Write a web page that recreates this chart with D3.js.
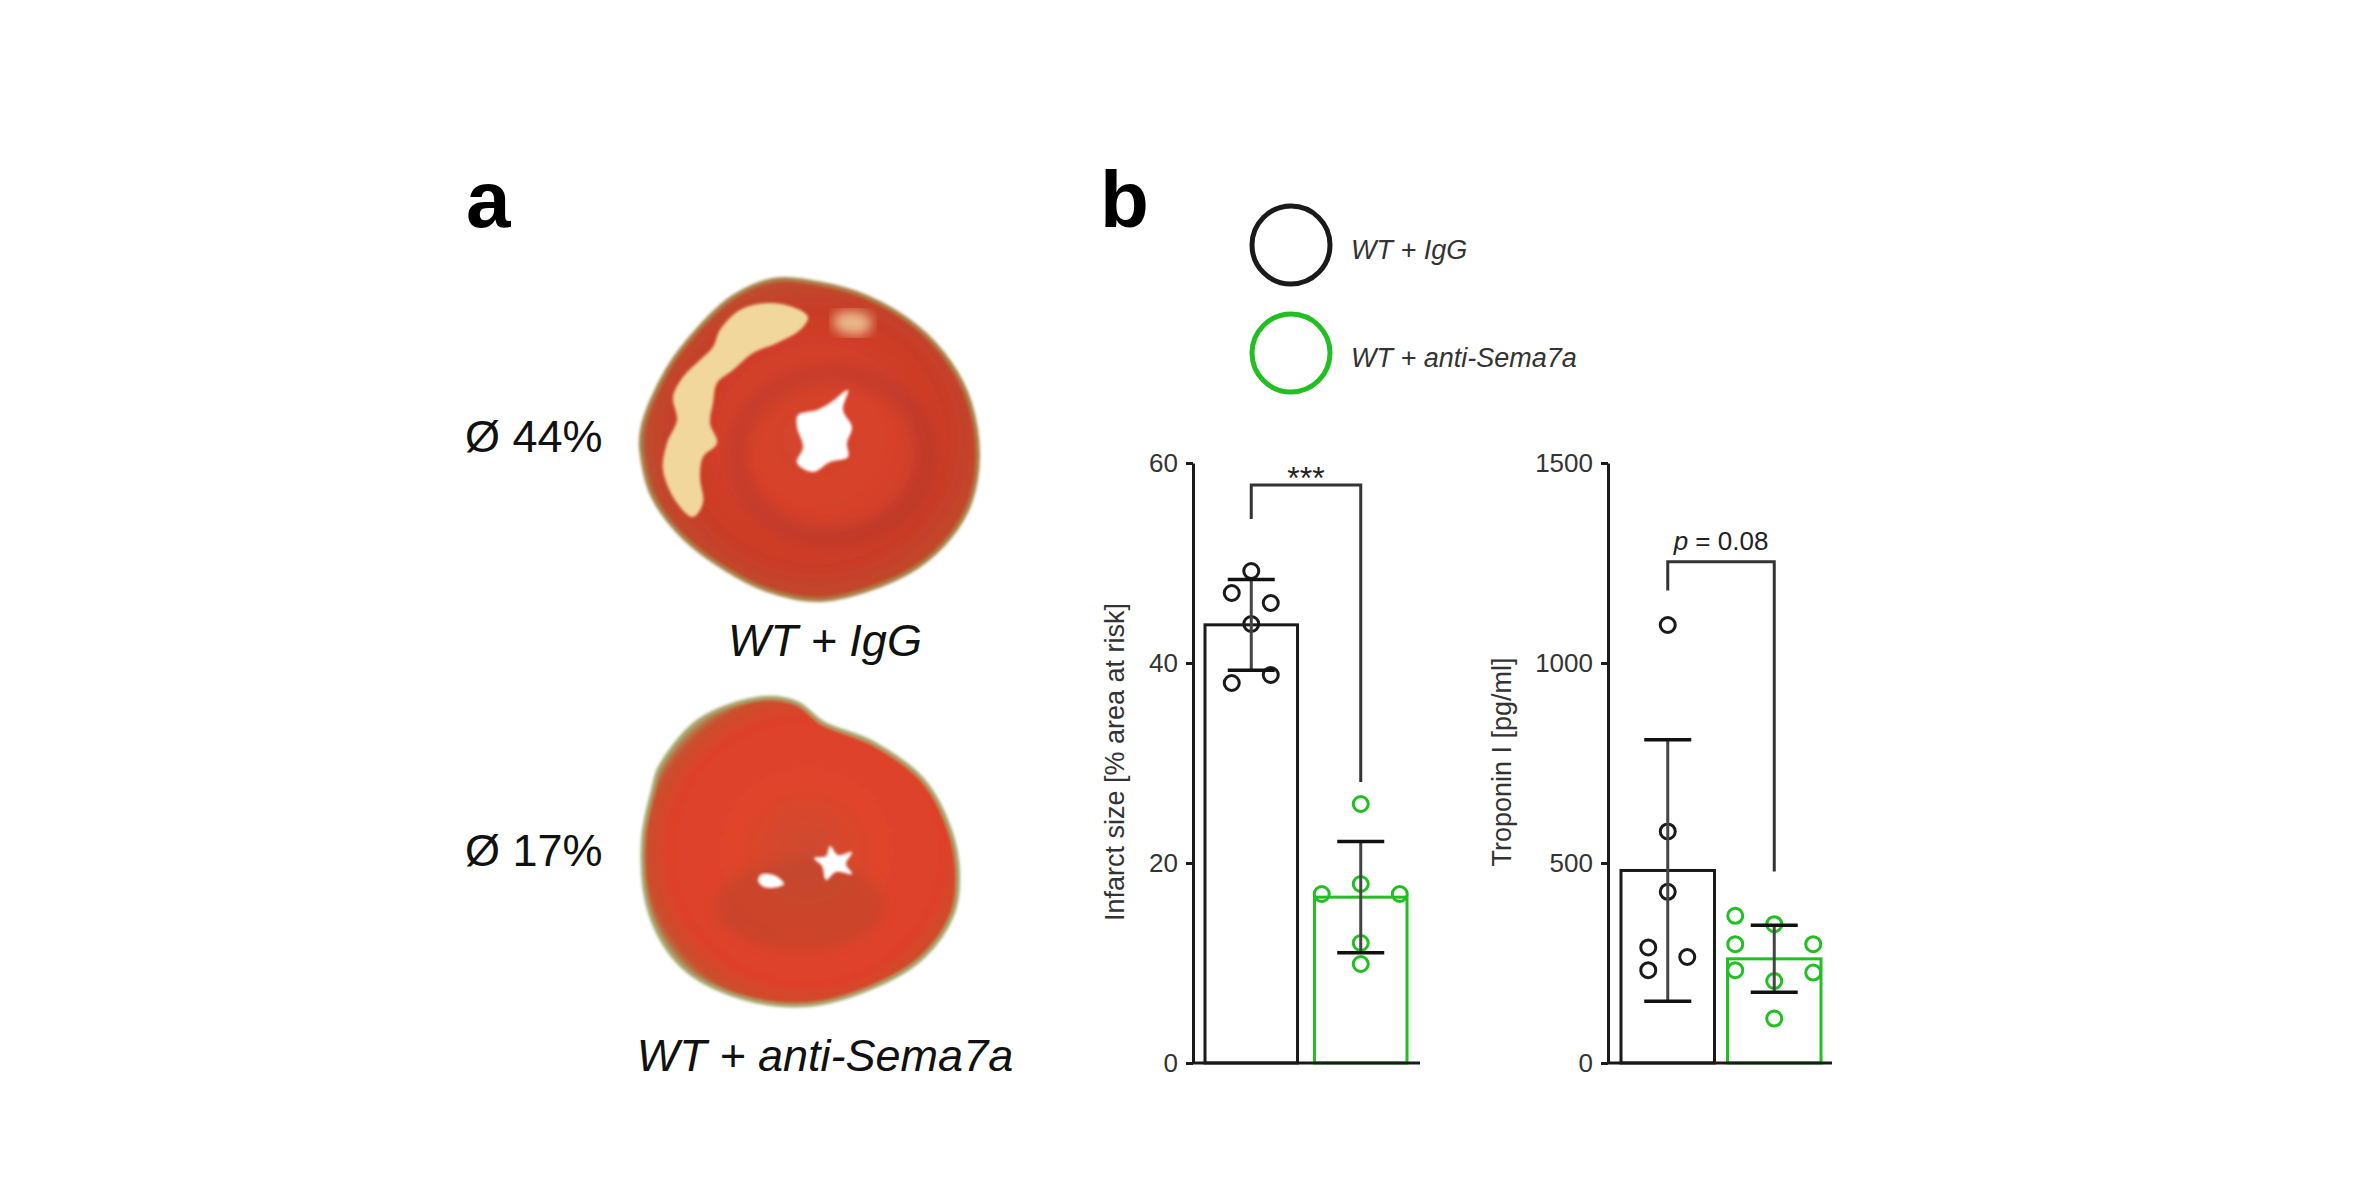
<!DOCTYPE html>
<html>
<head>
<meta charset="utf-8">
<script src="https://cdn.jsdelivr.net/npm/d3@7"></script>
<style>
  body { margin: 0; background: #fff; }
  svg { display: block; }
  text { font-family: "Liberation Sans", Arial, Helvetica, sans-serif; }
</style>
</head>
<body>
<div id="chart"></div>
<script>
// ---- data ----
const groups = ["WT + IgG", "WT + anti-Sema7a"];
const groupColors = ["#1a1a1a", "#22bf22"];

// panel b, left: infarct size [% area at risk]
const infarctIgG = [49.2, 47.0, 46.0, 43.9, 38.8, 38.0];
const infarctIgGSlot = [0, -1, 1, 0, 1, -1];
const infarctSema = [25.9, 17.9, 16.9, 16.9, 12.0, 9.9];
const infarctSemaSlot = [0, 0, -2, 2, 0, 0];
const infarctTicks = [0, 20, 40, 60];
const infarctBracket = [54.4, 57.8, 28.1]; // left leg end, top, right leg end
const infarctSig = "***";

// panel b, right: troponin I [pg/ml]
const troponinIgG = [1095, 579, 428, 289, 232, 265];
const troponinIgGSlot = [0, 0, 0, -1, -1, 1];
const troponinSema = [368, 347, 297, 297, 232, 226, 205, 111];
const troponinSemaSlot = [-2, 0, -2, 2, -2, 2, 0, 0];
const troponinTicks = [0, 500, 1000, 1500];
const troponinBracket = [1181, 1253, 479];
const troponinP = "0.08";

// panel a
const heartMeans = ["44%", "17%"];

const W = 2373, H = 1188;
const svg = d3.select("#chart").append("svg").attr("width", W).attr("height", H);
const defs = svg.append("defs");

defs.append("filter").attr("id", "soft")
  .append("feGaussianBlur").attr("stdDeviation", 1.6);
defs.append("filter").attr("id", "softer")
  .append("feGaussianBlur").attr("stdDeviation", 6);

function radial(id, stops) {
  const g = defs.append("radialGradient").attr("id", id)
    .attr("cx", "52%").attr("cy", "50%").attr("r", "55%");
  stops.forEach(([o, c]) => g.append("stop").attr("offset", o).attr("stop-color", c));
}
radial("heartTop", [["0%", "#d2452e"], ["40%", "#d8412a"], ["72%", "#c93b27"], ["90%", "#c0492d"], ["100%", "#9c7a45"]]);
radial("heartBot", [["0%", "#cc4a30"], ["40%", "#e0442a"], ["80%", "#dd4128"], ["93%", "#c9502e"], ["100%", "#a3a066"]]);

// ---- panel letters ----
svg.append("text").attr("x", 466).attr("y", 227)
  .attr("font-size", 80).attr("font-weight", "bold").text("a");
svg.append("text").attr("x", 1100).attr("y", 227)
  .attr("font-size", 80).attr("font-weight", "bold").text("b");

// ---- panel a: heart sections (drawn illustration) ----
const blob = d3.line().curve(d3.curveCatmullRomClosed.alpha(0.5));

const topOutline = [[642,430],[667,370],[700,327],[733,297],[773,280],[817,283],[867,297],[917,327],[950,363],[970,403],[978,457],[970,503],[950,537],[917,567],[867,590],[817,600],[767,590],[727,570],[683,537],[653,497],[643,463]];
const topPale = [[720,330],[740,310],[767,303],[793,307],[808,317],[800,330],[777,343],[753,353],[733,370],[717,383],[713,403],[710,423],[717,443],[703,457],[700,477],[703,503],[693,517],[677,503],[663,470],[667,443],[677,420],[673,397],[683,377],[700,360],[713,347]];
const topPale2 = [[836,314],[860,312],[872,320],[866,333],[846,334],[834,326]];
const topHole = [[848,390],[843,410],[852,427],[847,443],[848,457],[830,462],[813,472],[797,463],[803,447],[797,427],[798,415],[817,410],[830,403]];

const botOutline = [[660,767],[700,720],[763,698],[797,703],[823,723],[873,743],[923,780],[950,830],[958,873],[953,913],[923,957],[873,987],[807,1005],[740,997],[683,967],[650,913],[643,840],[653,790]];
const botHole1 = [[830,846],[838,855],[852,852],[846,864],[852,874],[836,872],[826,880],[822,866],[814,858],[826,856]];
const botHole2 = [[762,874],[776,876],[784,884],[772,888],[762,886],[758,880]];

const ga = svg.append("g");
// top heart
ga.append("path").attr("d", blob(topOutline)).attr("fill", "url(#heartTop)")
  .attr("stroke", "#a8824a").attr("stroke-width", 4).attr("filter", "url(#soft)");
ga.append("ellipse").attr("cx", 832).attr("cy", 455).attr("rx", 95).attr("ry", 82)
  .attr("fill", "none").attr("stroke", "#a3362a").attr("stroke-width", 22)
  .attr("opacity", 0.3).attr("filter", "url(#softer)");
ga.append("path").attr("d", blob(topPale)).attr("fill", "#f1d79c").attr("filter", "url(#soft)");
ga.append("path").attr("d", blob(topPale2)).attr("fill", "#eab88c").attr("filter", "url(#softer)");
ga.append("path").attr("d", blob(topHole)).attr("fill", "#fff").attr("filter", "url(#soft)");

// bottom heart
ga.append("path").attr("d", blob(botOutline)).attr("fill", "url(#heartBot)")
  .attr("stroke", "#a6a46c").attr("stroke-width", 4).attr("filter", "url(#soft)");
ga.append("ellipse").attr("cx", 800).attr("cy", 905).attr("rx", 85).attr("ry", 45)
  .attr("fill", "#a9462e").attr("opacity", 0.35).attr("filter", "url(#softer)");
ga.append("path").attr("d", blob(botHole1)).attr("fill", "#fff").attr("filter", "url(#soft)");
ga.append("path").attr("d", blob(botHole2)).attr("fill", "#fff").attr("filter", "url(#soft)");

// labels for panel a
svg.append("text").attr("x", 465).attr("y", 452).attr("font-size", 45)
  .attr("fill", "#111").text("\u00D8 " + heartMeans[0]);
svg.append("text").attr("x", 465).attr("y", 866).attr("font-size", 45)
  .attr("fill", "#111").text("\u00D8 " + heartMeans[1]);
svg.append("text").attr("x", 825).attr("y", 656).attr("font-size", 45)
  .attr("font-style", "italic").attr("text-anchor", "middle").attr("fill", "#111").text(groups[0]);
svg.append("text").attr("x", 825).attr("y", 1071).attr("font-size", 45)
  .attr("font-style", "italic").attr("text-anchor", "middle").attr("fill", "#111").text(groups[1]);

// ---- legend ----
const legend = svg.append("g");
groups.forEach((g, i) => {
  const cy = 245 + i * 108;
  legend.append("circle").attr("cx", 1291).attr("cy", cy).attr("r", 39)
    .attr("fill", "none").attr("stroke", groupColors[i]).attr("stroke-width", 5);
  legend.append("text").attr("x", 1351).attr("y", cy + 14).attr("font-size", 27)
    .attr("font-style", "italic").attr("fill", "#333").text(g);
});

// ---- bar/scatter panels ----
function drawPanel(cfg) {
  const g = svg.append("g");
  const y = d3.scaleLinear().domain([0, cfg.ticks[cfg.ticks.length - 1]]).range([1063, 463]);
  const x = d3.scaleBand().domain(groups).range(cfg.barRange).paddingInner(cfg.pad).paddingOuter(0);
  const bw = x.bandwidth();
  const cx = grp => x(grp) + bw / 2;
  const step = 19.5;

  const sets = groups.map((grp, i) => ({
    grp, color: groupColors[i], values: cfg.values[i], slots: cfg.slots[i],
    mean: d3.mean(cfg.values[i]), sd: d3.deviation(cfg.values[i])
  }));

  // bars
  g.selectAll(".bar").data(sets).join("rect")
    .attr("x", d => x(d.grp)).attr("y", d => y(d.mean))
    .attr("width", bw).attr("height", d => y(0) - y(d.mean))
    .attr("fill", "none").attr("stroke", d => d.color).attr("stroke-width", 3);

  // points
  sets.forEach(s => {
    g.selectAll(null).data(s.values).join("circle")
      .attr("cx", (v, j) => cx(s.grp) + s.slots[j] * step)
      .attr("cy", v => y(v)).attr("r", 7.5)
      .attr("fill", "none").attr("stroke", s.color).attr("stroke-width", 3);
  });

  // error bars (mean ± SD)
  sets.forEach(s => {
    const eb = g.append("g").attr("stroke-width", 3);
    eb.append("line").attr("x1", cx(s.grp)).attr("x2", cx(s.grp))
      .attr("y1", y(s.mean - s.sd)).attr("y2", y(s.mean + s.sd)).attr("stroke", "#444");
    [s.mean - s.sd, s.mean + s.sd].forEach(v => {
      eb.append("line").attr("x1", cx(s.grp) - 23.5).attr("x2", cx(s.grp) + 23.5)
        .attr("y1", y(v)).attr("y2", y(v)).attr("stroke-width", 3.5).attr("stroke", "#111");
    });
  });

  // axis
  const axis = g.append("g").attr("transform", `translate(${cfg.axisX},0)`)
    .call(d3.axisLeft(y).tickValues(cfg.ticks).tickFormat(d3.format("d"))
      .tickSize(7).tickPadding(8).tickSizeOuter(0));
  axis.select(".domain").attr("stroke", "#1a1a1a").attr("stroke-width", 3);
  axis.selectAll(".tick line").attr("stroke", "#1a1a1a").attr("stroke-width", 3);
  axis.selectAll(".tick text").attr("font-size", 26).attr("fill", "#333")
    .attr("font-family", "\"Liberation Sans\", Arial, sans-serif");
  g.append("line").attr("x1", cfg.axisX).attr("x2", cfg.baseEnd)
    .attr("y1", y(0)).attr("y2", y(0)).attr("stroke", "#1a1a1a").attr("stroke-width", 3);

  // y label
  g.append("text").attr("transform", `translate(${cfg.labelPos[0]},${cfg.labelPos[1]}) rotate(-90)`)
    .attr("text-anchor", "middle").attr("dominant-baseline", "middle")
    .attr("font-size", 27).attr("fill", "#333").text(cfg.label);

  // significance bracket
  const [lEnd, top, rEnd] = cfg.bracket;
  const x0 = cx(groups[0]), x1 = cx(groups[1]);
  g.append("path")
    .attr("d", `M${x0},${y(lEnd)}V${y(top)}H${x1}V${y(rEnd)}`)
    .attr("fill", "none").attr("stroke", "#333").attr("stroke-width", 3);
  const t = g.append("text").attr("x", (x0 + x1) / 2).attr("y", y(top) - cfg.sigOffset)
    .attr("text-anchor", "middle").attr("font-size", cfg.sigSize).attr("fill", "#222");
  cfg.sig(t);
}

drawPanel({
  values: [infarctIgG, infarctSema], slots: [infarctIgGSlot, infarctSemaSlot],
  ticks: infarctTicks, barRange: [1205, 1407], pad: 0.155, axisX: 1193, baseEnd: 1420,
  label: "Infarct size [% area at risk]", labelPos: [1117, 762],
  bracket: infarctBracket, sigOffset: -4, sigSize: 32,
  sig: t => t.text(infarctSig)
});

drawPanel({
  values: [troponinIgG, troponinSema], slots: [troponinIgGSlot, troponinSemaSlot],
  ticks: troponinTicks, barRange: [1621, 1821], pad: 0.122, axisX: 1608, baseEnd: 1832,
  label: "Troponin I [pg/ml]", labelPos: [1504, 762],
  bracket: troponinBracket, sigOffset: 12, sigSize: 26,
  sig: t => {
    t.append("tspan").attr("font-style", "italic").text("p");
    t.append("tspan").text(" = " + troponinP);
  }
});
</script>
</body>
</html>
